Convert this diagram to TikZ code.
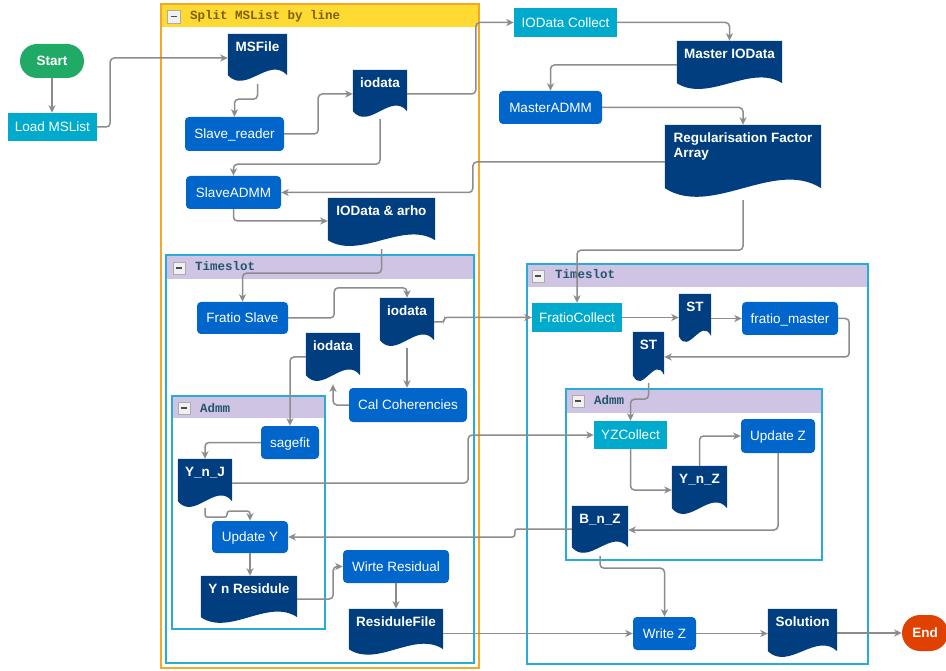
\documentclass[tikz,border=0pt]{standalone}
\usepackage{fontspec}
\setmainfont{Liberation Sans}
\newfontfamily\titlefont{Liberation Mono}
\usetikzlibrary{arrows.meta,calc}

\definecolor{sgreen}{RGB}{31,170,101}
\definecolor{eorange}{RGB}{224,64,0}
\definecolor{pcyan}{RGB}{0,170,204}
\definecolor{pblue}{RGB}{0,102,204}
\definecolor{pnavy}{RGB}{0,62,128}
\definecolor{cgray}{RGB}{140,140,140}
\definecolor{oborder}{RGB}{245,168,38}
\definecolor{yhead}{RGB}{255,218,50}
\definecolor{bborder}{RGB}{40,172,215}
\definecolor{lhead}{RGB}{208,196,228}
\definecolor{ttlbrown}{RGB}{125,95,5}
\definecolor{ttlteal}{RGB}{35,85,110}

\makeatletter
\newdimen\dcXa \newdimen\dcYa \newdimen\dcXb \newdimen\dcYb
\newdimen\dcW \newdimen\dcC \newdimen\dcPa \newdimen\dcPb
\newdimen\dcYu \newdimen\dcYd
\pgfdeclareshape{docshape}{%
  \inheritsavedanchors[from=rectangle]%
  \inheritanchorborder[from=rectangle]%
  \inheritanchor[from=rectangle]{center}%
  \inheritanchor[from=rectangle]{north}%
  \inheritanchor[from=rectangle]{south}%
  \inheritanchor[from=rectangle]{east}%
  \inheritanchor[from=rectangle]{west}%
  \inheritanchor[from=rectangle]{north east}%
  \inheritanchor[from=rectangle]{north west}%
  \inheritanchor[from=rectangle]{south east}%
  \inheritanchor[from=rectangle]{south west}%
  \backgroundpath{%
    \southwest \dcXa=\pgf@x \dcYa=\pgf@y
    \northeast \dcXb=\pgf@x \dcYb=\pgf@y
    \dcW=\dcXb \advance\dcW by -\dcXa
    \dcC=\dcYb \advance\dcC by -\dcYa
    \dcC=0.47\dcC
    \dcPa=\dcXb \advance\dcPa by -0.3\dcW
    \dcPb=\dcXa \advance\dcPb by 0.3\dcW
    \dcYu=\dcYa \advance\dcYu by \dcC
    \dcYd=\dcYa \advance\dcYd by -\dcC
    \pgfpathmoveto{\pgfqpoint{\dcXa}{\dcYb}}%
    \pgfpathlineto{\pgfqpoint{\dcXb}{\dcYb}}%
    \pgfpathlineto{\pgfqpoint{\dcXb}{\dcYa}}%
    \pgfpathcurveto{\pgfqpoint{\dcPa}{\dcYu}}{\pgfqpoint{\dcPb}{\dcYd}}{\pgfqpoint{\dcXa}{\dcYa}}%
    \pgfpathclose
  }%
}
\makeatother

\newcommand\dtext[3]{\parbox[c][#2pt][t]{#1pt}{\centering\rule{0pt}{17.5pt}#3}}

\begin{document}
\begin{tikzpicture}[x=1pt,y=-1pt,
  base/.style={inner sep=0pt, font=\fontsize{13.5}{15}\selectfont, text=white},
  sz/.style 2 args={minimum width=#1pt, minimum height=#2pt},
  proc/.style={base, fill=pblue, rounded corners=4pt, text height=9.7pt, text depth=0pt},
  cyanbox/.style={base, fill=pcyan, text height=9.7pt, text depth=0pt},
  term/.style={base, font=\fontsize{13.5}{15}\selectfont\bfseries, text height=9.7pt, text depth=0pt},
  doc/.style={base, shape=docshape, fill=pnavy, font=\fontsize{13.5}{15}\selectfont\bfseries},
  conn/.style={draw=cgray, line width=1.5pt, rounded corners=4pt, -{Stealth[length=7.5pt,width=7pt,inset=2pt]}},
  smallconn/.style={conn, rounded corners=2.5pt},
  obox/.style={draw=oborder, line width=1.6pt},
  bbox/.style={draw=bborder, line width=1.6pt},
  minus/.style={draw=gray!65, fill=gray!12, line width=0.6pt},
  minusbar/.style={draw=black!70, line width=1.2pt},
  ttl/.style={inner sep=0pt, anchor=base west, font=\titlefont\bfseries\fontsize{12.5}{14}\selectfont}
]
\useasboundingbox (0,0) rectangle (946,671);

% ---------- containers ----------
\fill[yhead] (161,4) rectangle (479,27);
\draw[obox] (161,4) rectangle (479,668);
\draw[minus] (167,10) rectangle ++(13,13);
\draw[minusbar] (170.5,16.5) -- ++(6,0);
\node[ttl, text=ttlbrown] (tsplit) at (190,20) {Split MSList by line};

\fill[lhead] (166,255) rectangle (474,279);
\draw[bbox] (166,255) rectangle (474,663);
\draw[minus] (173,262) rectangle ++(12,12);
\draw[minusbar] (176,268) -- ++(6,0);
\node[ttl, text=ttlteal] (tts1) at (195,271) {Timeslot};

\fill[lhead] (527,264) rectangle (868,287);
\draw[bbox] (527,264) rectangle (868,664);
\draw[minus] (532,270) rectangle ++(12,12);
\draw[minusbar] (535,276) -- ++(6,0);
\node[ttl, text=ttlteal] (tts2) at (555,279) {Timeslot};

\fill[lhead] (172,396) rectangle (325,418);
\draw[bbox] (172,396) rectangle (325,629);
\draw[minus] (178,402) rectangle ++(12,12);
\draw[minusbar] (181,408) -- ++(6,0);
\node[ttl, text=ttlteal] (tad1) at (200,412) {Admm};

\fill[lhead] (566,389) rectangle (822,413);
\draw[bbox] (566,389) rectangle (822,560);
\draw[minus] (572,395) rectangle ++(12,12);
\draw[minusbar] (575,401) -- ++(6,0);
\node[ttl, text=ttlteal] (tad2) at (594,404) {Admm};

% ---------- nodes ----------
\node[term, fill=sgreen, sz={64}{34}, rounded corners=17pt] (start) at (52,61) {Start};
\node[cyanbox, sz={89}{28}] (loadms) at (52.5,127) {Load MSList};
\node[doc] (msfile) at (257.5,54.5) {\dtext{59}{41}{MSFile}};
\node[doc] (iodataA) at (380,90.5) {\dtext{54}{41}{iodata}};
\node[proc, sz={99}{34}] (slavereader) at (234.5,134) {Slave\_reader};
\node[proc, sz={95}{33}] (slaveadmm) at (233.5,192.5) {SlaveADMM};
\node[doc] (ioarho) at (381.5,219) {\dtext{107}{42}{IOData \& arho}};
\node[cyanbox, sz={103}{29}] (iocollect) at (565.5,22.5) {IOData Collect};
\node[doc] (masterio) at (729.5,62) {\dtext{105}{42}{Master IOData}};
\node[proc, sz={103}{33}] (masteradmm) at (550.5,107.5) {MasterADMM};
\node[doc] (reg) at (743,156.5) {\dtext{156}{63}{\begin{tabular}[t]{@{}l@{}}Regularisation Factor\\Array\end{tabular}}};
\node[proc, sz={91}{32}] (fratioslave) at (242.5,318) {Fratio Slave};
\node[doc] (iodataB) at (407,319) {\dtext{54}{42}{iodata}};
\node[doc] (iodataC) at (333,354) {\dtext{54}{42}{iodata}};
\node[proc, sz={118}{34}] (calcoh) at (408,405) {Cal Coherencies};
\node[proc, sz={58}{33}] (sagefit) at (290,442.5) {sagefit};
\node[doc] (ynj) at (205,480) {\dtext{54}{42}{Y\_n\_J}};
\node[proc, sz={76}{32}] (updatey) at (250,537) {Update Y};
\node[doc] (ynres) at (249,596.5) {\dtext{96}{41}{Y n Residule}};
\node[proc, sz={106}{33}] (wirteres) at (396,566.5) {Wirte Residual};
\node[doc] (resfile) at (396,629) {\dtext{94}{40}{ResiduleFile}};
\node[cyanbox, sz={90}{29}] (fratiocollect) at (577,317.5) {FratioCollect};
\node[doc] (stA) at (695,315) {\dtext{32}{42}{ST}};
\node[proc, sz={96}{33}] (fratiomaster) at (790,318.5) {fratio\_master};
\node[doc] (stB) at (648.5,353.5) {\dtext{31}{43}{ST}};
\node[cyanbox, sz={73}{28}] (yzcollect) at (630.5,435) {YZCollect};
\node[proc, sz={74}{34}] (updatez) at (778,436) {Update Z};
\node[doc] (ynz) at (699.5,487) {\dtext{55}{42}{Y\_n\_Z}};
\node[doc] (bnz) at (600,526.5) {\dtext{56}{41}{B\_n\_Z}};
\node[proc, sz={63}{33}] (writez) at (664.5,633.5) {Write Z};
\node[doc] (solution) at (802.5,630) {\dtext{69}{42}{Solution}};
\node[term, fill=eorange, sz={46}{36}, rounded corners=18pt] (endn) at (925,633) {End};

% ---------- connectors ----------
\draw[conn] (start.south) -- (start.south |- loadms.north);
\draw[conn] (loadms.east) -- ++(13,0) |- ($(msfile.west)+(0,3.5)$);
\draw[conn] ($(msfile.south)+(0,9)$) -- ++(0,15) -| (slavereader.north);
\draw[conn] (slavereader.east) -- ++(34,0) |- ($(iodataA.west)+(0,3.5)$);
\draw[conn] ($(iodataA.south)+(0,8)$) -- ++(0,45) -| (slaveadmm.north);
\draw[conn] ($(iodataA.east)+(0,3.5)$) -| ($(iocollect.west)+(-38,0)$) -- (iocollect.west);
\draw[conn] (iocollect.east) -| (masterio.north);
\draw[conn] ($(masterio.west)+(0,3)$) -| (masteradmm.north);
\draw[conn] (masteradmm.east) -| (reg.north);
\draw[conn] ($(reg.west)+(0,5.5)$) -- ++(-192,0) |- (slaveadmm.east);
\draw[conn] ($(reg.south)+(0,12)$) -- ++(0,50) -| (fratiocollect.north);
\draw[conn] (slaveadmm.south) |- ($(ioarho.west)+(0,2)$);
\draw[conn] ($(ioarho.south)+(0,9)$) -- ++(0,24) -| (fratioslave.north);
\draw[conn] (fratioslave.east) -- ++(46,0) |- ($(iodataB.north)+(0,-10)$) -- (iodataB.north);
\draw[smallconn] ($(iodataB.east)+(0,3)$) -- ++(10,0) |- (fratiocollect.west);
\draw[conn] ($(iodataB.south)+(0,8)$) -- (iodataB.south |- calcoh.north);
\draw[conn] (calcoh.west) -| ($(iodataC.south)+(0,9)$);
\draw[conn] ($(iodataC.west)+(0,3)$) -| (sagefit.north);
\draw[conn] (sagefit.west) -| (ynj.north);
\draw[conn] ($(ynj.east)+(0,3)$) -- ++(236,0) |- (yzcollect.west);
\draw[smallconn] ($(ynj.south)+(0,7)$) -- ++(0,9) -- ++(22,0) -- ++(0,-6) -| (updatey.north);
\draw[smallconn] ($(bnz.west)+(0,2.5)$) -- ++(-57,0) |- (updatey.east);
\draw[conn] (updatey.south) -- (updatey.south |- ynres.north);
\draw[conn] ($(ynres.east)+(0,2.5)$) -- ++(36,0) |- (wirteres.west);
\draw[conn] (wirteres.south) -- (resfile.north);
\draw[conn] (resfile.east |- writez.west) -- (writez.west);
\draw[conn] (fratiocollect.east) -- (stA.west |- fratiocollect.east);
\draw[conn] (stA.east |- fratiomaster.west) -- (fratiomaster.west);
\draw[conn] (fratiomaster.east) -- ++(11,0) |- ($(stB.east)+(0,3.5)$);
\draw[conn] ($(stB.south)+(0,8)$) -- ++(0,16) -| (yzcollect.north);
\draw[conn] (yzcollect.south) |- ($(ynz.west)+(0,3)$);
\draw[conn] (ynz.north) |- (updatez.west);
\draw[conn] (updatez.south) |- ($(bnz.east)+(0,3.5)$);
\draw[conn] ($(bnz.south)+(0,9)$) -- ++(0,12) -| (writez.north);
\draw[conn] (writez.east) -- (solution.west |- writez.east);
\draw[conn] (solution.east |- endn.west) -- (endn.west);
\end{tikzpicture}
\end{document}
